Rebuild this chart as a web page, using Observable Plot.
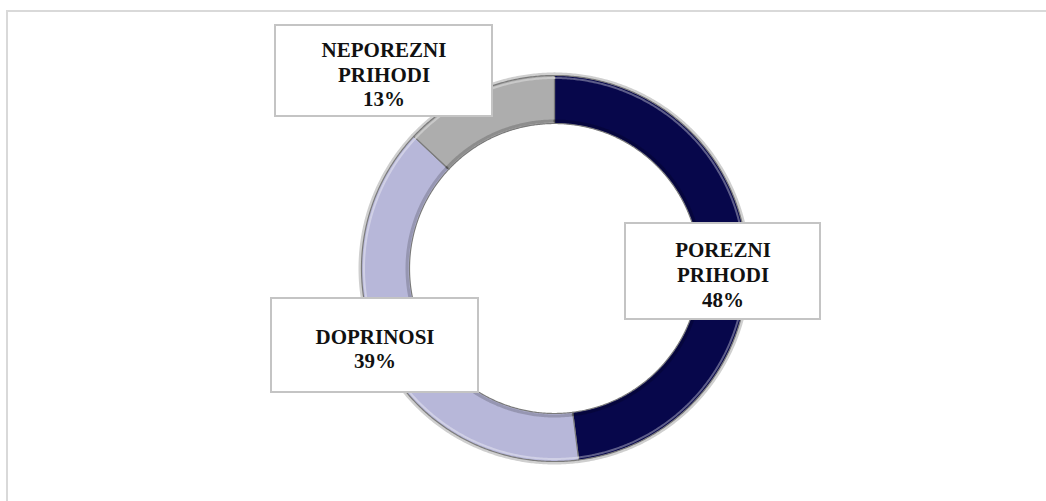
<!DOCTYPE html>
<html>
<head>
<meta charset="utf-8">
<script src="https://cdn.jsdelivr.net/npm/d3@7"></script>
<script src="https://cdn.jsdelivr.net/npm/@observablehq/plot@0.6"></script>
<style>
  html, body { margin: 0; padding: 0; background: #fff; }
  #wrap { position: relative; width: 1046px; height: 501px; overflow: hidden; }
  #frame { position: absolute; left: 6px; top: 10px; right: -4px; bottom: -4px;
           border-top: 2px solid #d9d9d9; border-left: 2px solid #d9d9d9; pointer-events: none; }
  #chart { position: absolute; left: 0; top: 0; }
</style>
</head>
<body>
<div id="wrap"><div id="chart"></div><div id="frame"></div></div>
<script>
// ---- data ----
const categories = ["POREZNI PRIHODI", "DOPRINOSI", "NEPOREZNI PRIHODI"];
const values = [48, 39, 13];
const colors = ["#07074b", "#b7b7d9", "#adadad"];

// ---- layout ----
const W = 1046, H = 501;
const cx = 554, cy = 268, rOuter = 193, rInner = 145;
const boxX1 = [625, 271, 275];
const boxX2 = [820, 478, 492];
const boxY1 = [223, 298, 25];
const boxY2 = [319, 392, 116];

// slices via d3.pie (clockwise from 12 o'clock)
const arcs = d3.pie().sort(null).value(d => d)(values);
function arcPoints(a, i, r0, r1) {
  const n = Math.max(4, Math.ceil((a.endAngle - a.startAngle) / (Math.PI / 360)));
  const pts = [];
  for (let k = 0; k <= n; k++) {
    const t = a.startAngle + (a.endAngle - a.startAngle) * k / n;
    pts.push({cat: categories[i], x: cx + r1 * Math.sin(t), y: cy - r1 * Math.cos(t)});
  }
  if (r0 != null) {
    for (let k = n; k >= 0; k--) {
      const t = a.startAngle + (a.endAngle - a.startAngle) * k / n;
      pts.push({cat: categories[i], x: cx + r0 * Math.sin(t), y: cy - r0 * Math.cos(t)});
    }
  }
  return pts;
}
const ringPts = arcs.flatMap((a, i) => arcPoints(a, i, rInner, rOuter));
const haloPts = arcs.flatMap((a, i) => arcPoints(a, i, null, rOuter + 1.5));
const hiPts = arcs.flatMap((a, i) => arcPoints(a, i, null, rOuter - 2.5));
const innerShadePts = arcs.flatMap((a, i) => arcPoints(a, i, null, rInner + 2.5));

const labels = categories.map((c, i) => ({
  cat: c,
  x1: boxX1[i], x2: boxX2[i], y1: boxY1[i], y2: boxY2[i],
  text: c.split(" ").join("\n") + "\n" + values[i] + "%"
}));

const chart = Plot.plot({
  width: W, height: H,
  margin: 0,
  x: {domain: [0, W], range: [0, W], axis: null},
  y: {domain: [0, H], range: [0, H], axis: null},
  color: {domain: categories, range: colors},
  style: {background: "transparent"},
  marks: [
    Plot.line(haloPts, {x: "x", y: "y", z: "cat", stroke: "#cfcfcf", strokeWidth: 3}),
    Plot.line(ringPts, {x: "x", y: "y", z: "cat", fill: "cat", stroke: "#7a7a7a", strokeWidth: 1.2, curve: "linear-closed"}),
    Plot.line(hiPts, {x: "x", y: "y", z: "cat", stroke: "#ffffff", strokeOpacity: 0.35, strokeWidth: 2}),
    Plot.line(innerShadePts, {x: "x", y: "y", z: "cat", stroke: "#000000", strokeOpacity: 0.18, strokeWidth: 3}),
    Plot.rect(labels, {x1: "x1", x2: "x2", y1: "y1", y2: "y2", fill: "#fff", stroke: "#c4c4c4", strokeWidth: 2}),
    Plot.text(labels, {
      x: d => (d.x1 + d.x2) / 2, y: d => (d.y1 + d.y2) / 2, text: "text",
      dy: 2.5, fontSize: 21, lineHeight: 1.19, fontWeight: "bold",
      fontFamily: "'Liberation Serif', 'Times New Roman', serif", fill: "#111"
    })
  ]
});
document.getElementById("chart").appendChild(chart);
</script>
</body>
</html>
